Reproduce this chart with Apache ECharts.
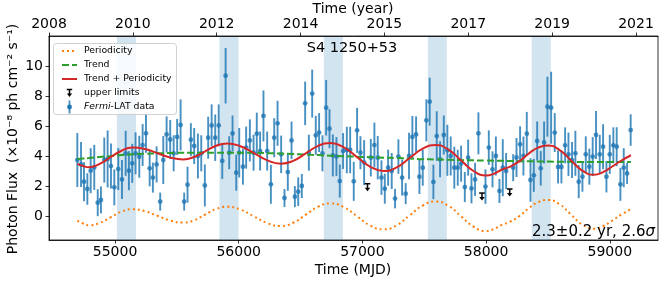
<!DOCTYPE html>
<html><head><meta charset="utf-8">
<script src="https://cdn.jsdelivr.net/npm/echarts@6/dist/echarts.min.js"></script>
<style>html,body{margin:0;padding:0;background:#fff}#c{width:664px;height:282px}</style>
</head><body><div id="c"></div>
<script>
// ---- data ----
const mjd = [54695,54725,54749,54776,54803,54832,54860,54886,54913,54940,54967,54994,55026,55056,55086,55112,55139,55166,55196,55223,55250,55280,55306,55336,55365,55390,55417,55446,55474,55502,55530,55559,55586,55613,55640,55670,55697,55726,55753,55781,55810,55838,55867,55894,55923,55950,55980,56004,56034,56060,56090,56120,56146,56173,56200,56230,56260,56287,56314,56343,56370,56397,56427,56454,56481,56510,56537,56567,56594,56623,56650,56677,56707,56734,56761,56790,56817,56844,56874,56901,56930,56957,56984,57014,57068,57097,57124,57154,57181,57208,57237,57264,57291,57321,57350,57377,57404,57434,57461,57488,57517,57544,57574,57601,57628,57658,57687,57714,57743,57771,57798,57828,57855,57882,57911,57938,57995,58022,58052,58079,58108,58135,58162,58219,58246,58275,58302,58329,58359,58386,58413,58442,58469,58496,58526,58555,58582,58609,58639,58666,58695,58722,58749,58779,58806,58835,58862,58889,58919,58946,58973,59000,59029,59056,59086,59113,59140,59169];
const flux = [3.73,3.44,2.29,1.80,3.02,3.24,0.89,1.07,3.73,3.80,3.33,1.91,3.13,2.44,4.18,3.02,3.51,4.18,3.95,4.73,5.51,3.18,2.56,3.44,0.96,3.73,5.44,5.10,4.18,5.27,6.07,0.96,2.09,5.09,4.67,4.00,4.18,2.04,5.22,6.04,5.22,6.04,3.67,9.35,4.22,5.50,2.89,4.22,3.29,4.56,5.04,4.22,5.49,4.33,6.67,4.33,2.11,5.22,6.18,4.11,1.20,2.93,5.04,1.29,1.62,2.00,7.51,4.22,8.16,5.38,5.56,4.18,7.22,5.82,4.04,3.96,2.33,4.33,4.40,4.40,2.31,5.71,4.22,3.56,3.89,4.73,3.89,2.56,1.82,3.22,3.00,1.16,3.96,2.56,1.49,4.00,5.27,5.44,2.62,3.22,6.38,7.62,2.27,5.33,3.78,5.40,4.38,4.00,3.22,3.22,3.49,1.93,3.89,1.84,2.44,5.51,1.96,4.56,3.11,4.00,1.67,3.22,3.00,3.22,3.90,4.78,4.00,5.49,2.40,2.71,5.00,3.18,4.90,7.29,7.22,5.56,3.27,3.27,4.71,4.11,3.73,4.18,2.29,2.62,4.11,3.29,3.96,5.40,4.11,4.62,2.62,4.11,4.71,4.62,2.11,3.22,2.84,5.73];
const fluxErr = [1.8,1.5,1.3,1.05,1.5,1.5,0.9,0.9,1.5,1.9,1.5,1.2,1.4,1.3,1.5,1.3,1.3,1.4,1.4,1.4,1.3,1.2,1.0,1.2,0.6,1.6,1.2,1.3,1.2,1.2,1.7,0.6,1.2,1.1,1.2,1.5,1.2,1.4,1.4,1.4,1.55,1.4,1.2,1.85,1.1,1.2,1.2,1.65,1.2,1.4,1.4,1.2,1.4,1.3,1.7,1.3,1.3,1.3,1.5,1.25,0.6,1.25,1.25,0.7,0.95,0.8,1.45,1.2,1.6,1.3,1.3,1.2,1.85,1.3,1.4,1.3,1.1,1.2,1.55,1.55,1.3,1.5,1.1,1.5,1.25,1.5,1.45,1.15,1.0,1.2,1.2,0.65,1.15,1.2,0.7,1.55,1.4,1.2,1.15,1.2,1.4,1.6,1.15,1.65,1.2,1.3,1.7,1.3,1.4,1.2,1.2,1.0,1.2,1.0,1.1,1.4,1.15,1.15,1.2,1.3,0.8,1.9,1.2,0.9,1.3,1.2,1.3,1.45,1.45,1.1,1.3,1.15,1.4,2.0,2.4,1.3,1.1,1.1,1.2,1.45,1.2,1.5,1.1,1.0,1.2,1.2,1.3,1.6,1.3,1.5,1.05,1.3,1.2,1.3,1.1,1.3,0.7,1.05];
const ulMjd = [57041, 57967, 58191];
const ulFlux = [2.15, 1.53, 1.80];
const modelMjd = [54695,54742,54789,54876,54964,55052,55139,55242,55345,55448,55551,55640,55728,55817,55905,56014,56123,56232,56341,56441,56542,56642,56742,56849,56957,57064,57171,57277,57382,57488,57593,57695,57797,57898,58000,58060,58130,58190,58270,58350,58420,58500,58592,58685,58777,58870,58945,59020,59095,59171];
const periodicity = [-0.31,-0.50,-0.62,-0.46,-0.085,0.29,0.45,0.32,0.005,-0.31,-0.44,-0.285,0.09,0.465,0.62,0.43,-0.025,-0.48,-0.67,-0.45,0.085,0.62,0.84,0.59,-0.025,-0.64,-0.89,-0.62,0.04,0.70,0.97,0.68,-0.015,-0.71,-1.0,-0.88,-0.58,-0.40,0.0,0.55,0.92,1.07,0.79,0.11,-0.57,-0.85,-0.68,-0.30,0.10,0.45];
const trend = [3.78,3.83,3.87,3.94,4.00,4.06,4.11,4.15,4.18,4.20,4.215,4.22,4.22,4.22,4.22,4.22,4.215,4.19,4.16,4.13,4.09,4.06,4.02,3.99,3.95,3.92,3.89,3.86,3.83,3.79,3.77,3.75,3.73,3.71,3.70,3.69,3.68,3.67,3.655,3.645,3.64,3.63,3.62,3.61,3.60,3.60,3.60,3.60,3.60,3.60];
const trendPlusPeriodicity = [3.47,3.33,3.25,3.48,3.92,4.35,4.56,4.47,4.185,3.89,3.775,3.935,4.31,4.685,4.84,4.65,4.19,3.71,3.49,3.68,4.175,4.68,4.86,4.58,3.925,3.28,3.00,3.24,3.87,4.49,4.74,4.43,3.715,3.00,2.70,2.81,3.10,3.27,3.655,4.195,4.56,4.70,4.41,3.72,3.03,2.75,2.92,3.30,3.70,4.05];
const bandStart = [55015, 55844, 56688, 57529, 58369];
const bandEnd   = [55169, 55999, 56842, 57682, 58523];
const xTicks = [55000, 56000, 57000, 58000, 59000];
const yTicks = [0, 2, 4, 6, 8, 10];
const yearTickMjd = [54466, 55144, 55822, 56500, 57178, 57856, 58534, 59212];
const yearLabels = ['2008', '2010', '2012', '2014', '2015', '2017', '2019', '2021'];
const xMin = 54466, xMax = 59390, yMin = -1.6, yMax = 12;

// ---- chart ----
const FONT = 'DejaVu Sans';
const BLUE = '#1f77b4';
const chart = echarts.init(document.getElementById('c'), null, {renderer: 'canvas'});

const axisCommon = {
  axisLine: {show: true, onZero: false, lineStyle: {color: '#000', width: 0.8}},
  splitLine: {show: false},
};

const option = {
  animation: false,
  backgroundColor: '#fff',
  grid: {left: 49, right: 6, top: 36, bottom: 42, containLabel: false, outerBoundsMode: 'none',
         show: true, borderColor: '#000', borderWidth: 0.8, backgroundColor: 'transparent'},
  xAxis: [
    Object.assign({
      type: 'value', position: 'bottom', min: xMin, max: xMax,
      axisTick: {show: true, length: 3.5, inside: false, lineStyle: {color: '#000', width: 0.8}, customValues: xTicks},
      axisLabel: {customValues: xTicks, formatter: v => String(v), color: '#000', fontSize: 14, fontFamily: FONT, margin: 5}
    }, axisCommon),
    Object.assign({
      type: 'value', position: 'top', min: xMin, max: xMax,
      axisTick: {show: true, length: 3.5, inside: false, lineStyle: {color: '#000', width: 0.8}, customValues: yearTickMjd},
      axisLabel: {customValues: yearTickMjd, color: '#000', fontSize: 14, fontFamily: FONT, margin: 5,
        formatter: v => { const i = yearTickMjd.findIndex(t => Math.abs(t - v) < 1); return i >= 0 ? yearLabels[i] : ''; }}
    }, axisCommon)
  ],
  yAxis: Object.assign({
    type: 'value', min: yMin, max: yMax,
    axisTick: {show: true, length: 3.5, inside: false, lineStyle: {color: '#000', width: 0.8}, customValues: yTicks},
    axisLabel: {customValues: yTicks, formatter: v => String(v), color: '#000', fontSize: 14, fontFamily: FONT, margin: 6}
  }, axisCommon),
  series: [
    { // shaded bands
      type: 'custom', z: 0, clip: true, silent: true,
      data: bandStart.map((s, i) => [s, bandEnd[i]]),
      encode: {x: [0, 1]},
      renderItem: (params, api) => {
        const a = api.coord([api.value(0), yMax]);
        const b = api.coord([api.value(1), yMin]);
        return {type: 'rect', shape: {x: a[0], y: a[1], width: b[0] - a[0], height: b[1] - a[1]},
                style: {fill: 'rgba(31,119,180,0.2)'}};
      }
    },
    { // error bars
      type: 'custom', z: 2, clip: true, silent: true,
      data: mjd.map((m, i) => [m, flux[i], fluxErr[i]]),
      encode: {x: 0, y: 1},
      renderItem: (params, api) => {
        const m = api.value(0), f = api.value(1), e = api.value(2);
        const p1 = api.coord([m, f - e]), p2 = api.coord([m, f + e]);
        return {type: 'line', shape: {x1: p1[0], y1: p1[1], x2: p2[0], y2: p2[1]},
                style: {stroke: 'rgba(31,119,180,0.82)', lineWidth: 1.9}};
      }
    },
    { // data points
      type: 'scatter', z: 3, silent: true,
      data: mjd.map((m, i) => [m, flux[i]]),
      symbol: 'circle', symbolSize: 4.8,
      itemStyle: {color: BLUE}
    },
    { // upper limits
      type: 'custom', z: 3, clip: true, silent: true,
      data: ulMjd.map((m, i) => [m, ulFlux[i]]),
      encode: {x: 0, y: 1},
      renderItem: (params, api) => {
        const p = api.coord([api.value(0), api.value(1)]);
        const x = p[0], y = p[1];
        return {type: 'group', children: [
          {type: 'line', shape: {x1: x - 2.8, y1: y, x2: x + 2.8, y2: y}, style: {stroke: '#000', lineWidth: 1.5}},
          {type: 'line', shape: {x1: x, y1: y, x2: x, y2: y + 5}, style: {stroke: '#000', lineWidth: 1.5}},
          {type: 'polygon', shape: {points: [[x - 2.7, y + 4], [x + 2.7, y + 4], [x, y + 7.5]]}, style: {fill: '#000'}}
        ]};
      }
    },
    { name: 'Periodicity', type: 'line', z: 4, silent: true, showSymbol: false, smooth: 0.5,
      data: modelMjd.map((m, i) => [m, periodicity[i]]),
      lineStyle: {color: '#ff7f0e', width: 2, type: [2, 3]} },
    { name: 'Trend', type: 'line', z: 4, silent: true, showSymbol: false, smooth: 0.5,
      data: modelMjd.map((m, i) => [m, trend[i]]),
      lineStyle: {color: '#2ca02c', width: 2, type: [7, 3]} },
    { name: 'Trend + Periodicity', type: 'line', z: 5, silent: true, showSymbol: false, smooth: 0.5,
      data: modelMjd.map((m, i) => [m, trendPlusPeriodicity[i]]),
      lineStyle: {color: '#d62728', width: 2} }
  ],
  graphic: [
    // legend box
    {type: 'rect', z: 50, shape: {x: 53.5, y: 43.5, width: 123, height: 71, r: 3},
     style: {fill: 'rgba(255,255,255,0.8)', stroke: 'rgba(204,204,204,0.9)', lineWidth: 1}},
    {type: 'line', z: 51, shape: {x1: 62, y1: 51, x2: 77, y2: 51}, style: {stroke: '#ff7f0e', lineWidth: 2, lineDash: [2, 3]}},
    {type: 'line', z: 51, shape: {x1: 62, y1: 65, x2: 77, y2: 65}, style: {stroke: '#2ca02c', lineWidth: 2, lineDash: [7, 3]}},
    {type: 'line', z: 51, shape: {x1: 62, y1: 79, x2: 77, y2: 79}, style: {stroke: '#d62728', lineWidth: 2}},
    {type: 'line', z: 51, shape: {x1: 66.8, y1: 89.5, x2: 72.2, y2: 89.5}, style: {stroke: '#000', lineWidth: 1.5}},
    {type: 'line', z: 51, shape: {x1: 69.5, y1: 89.5, x2: 69.5, y2: 94.5}, style: {stroke: '#000', lineWidth: 1.5}},
    {type: 'polygon', z: 51, shape: {points: [[66.9, 93.5], [72.1, 93.5], [69.5, 97]]}, style: {fill: '#000'}},
    {type: 'line', z: 51, shape: {x1: 69.5, y1: 100.5, x2: 69.5, y2: 113.5}, style: {stroke: 'rgba(31,119,180,0.82)', lineWidth: 1.9}},
    {type: 'circle', z: 52, shape: {cx: 69.5, cy: 107, r: 2.4}, style: {fill: BLUE}},
    {type: 'text', z: 52, x: 84, y: 51, style: {text: 'Periodicity', fontSize: 9.3, fontFamily: FONT, fill: '#000', verticalAlign: 'middle'}},
    {type: 'text', z: 52, x: 84, y: 65, style: {text: 'Trend', fontSize: 9.3, fontFamily: FONT, fill: '#000', verticalAlign: 'middle'}},
    {type: 'text', z: 52, x: 84, y: 79, style: {text: 'Trend + Periodicity', fontSize: 9.3, fontFamily: FONT, fill: '#000', verticalAlign: 'middle'}},
    {type: 'text', z: 52, x: 84, y: 93, style: {text: 'upper limits', fontSize: 9.3, fontFamily: FONT, fill: '#000', verticalAlign: 'middle'}},
    {type: 'text', z: 52, x: 84, y: 107, style: {text: '{i|Fermi}-LAT data', fontSize: 9.3, fontFamily: FONT, fill: '#000', verticalAlign: 'middle',
      rich: {i: {fontStyle: 'italic', fontSize: 9.3, fontFamily: FONT, fill: '#000'}}}},
    // title and annotation
    {type: 'text', z: 52, x: 352, y: 48.5, style: {text: 'S4 1250+53', fontSize: 14.5, fontFamily: FONT, fill: '#000', align: 'center', verticalAlign: 'middle'}},
    {type: 'text', z: 52, x: 655, y: 232.5, style: {text: '2.3±0.2 yr, 2.6{s|σ}', fontSize: 15, fontFamily: FONT, fill: '#000', align: 'right', verticalAlign: 'middle',
      rich: {s: {fontStyle: 'italic', fontSize: 15, fontFamily: FONT, fill: '#000'}}}},
    // axis titles
    {type: 'text', z: 52, x: 13, y: 139, rotation: Math.PI / 2, style: {text: 'Photon Flux  (×10⁻⁸ ph cm⁻² s⁻¹)', fontSize: 14, fontFamily: FONT, fill: '#000', align: 'center', verticalAlign: 'middle'}},
    {type: 'text', z: 52, x: 353, y: 9, style: {text: 'Time (year)', fontSize: 14, fontFamily: FONT, fill: '#000', align: 'center', verticalAlign: 'middle'}},
    {type: 'text', z: 52, x: 353, y: 270, style: {text: 'Time (MJD)', fontSize: 14, fontFamily: FONT, fill: '#000', align: 'center', verticalAlign: 'middle'}}
  ]
};
chart.setOption(option);
</script>
</body></html>
